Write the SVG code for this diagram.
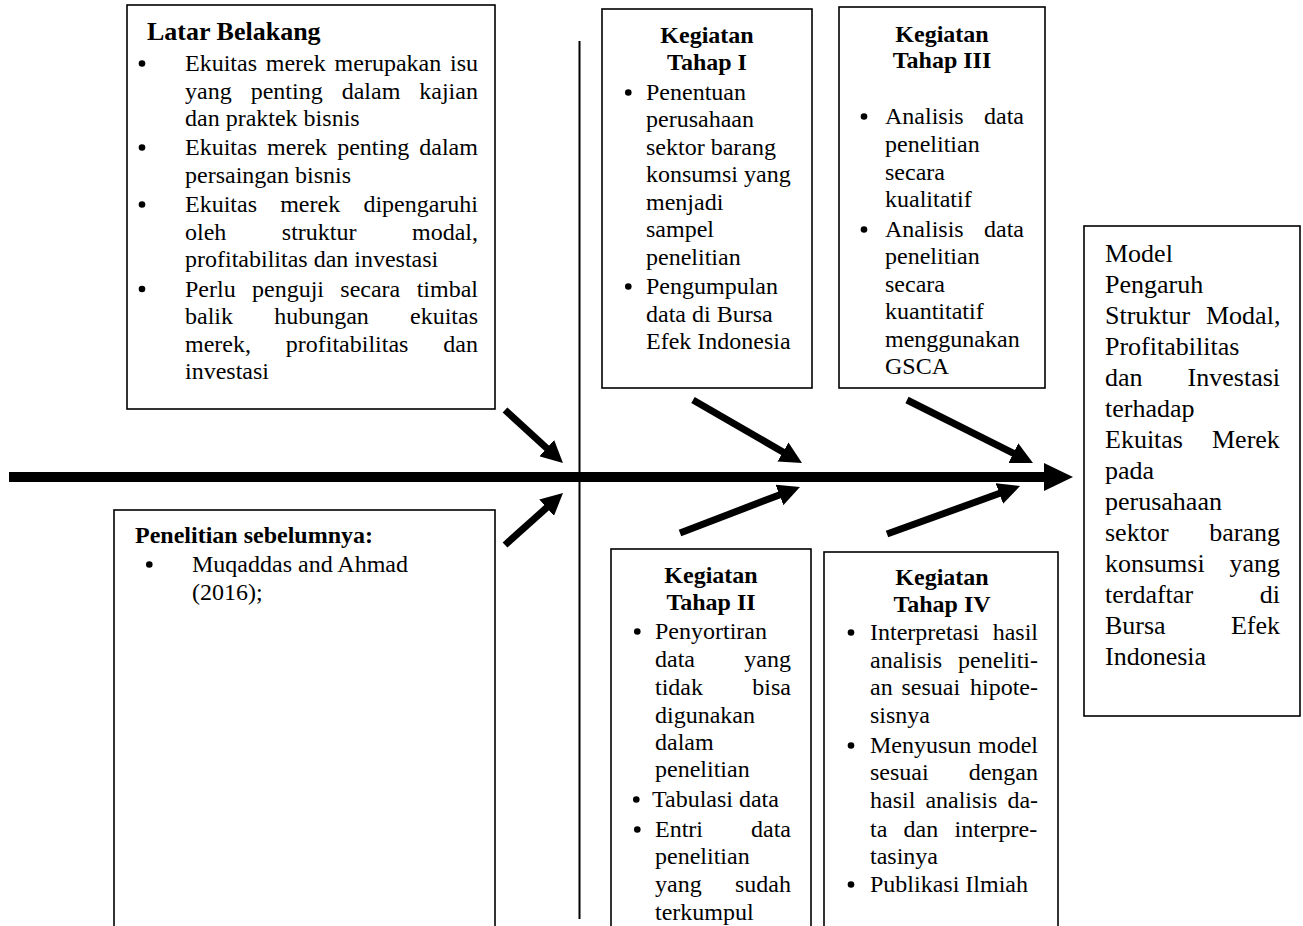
<svg xmlns="http://www.w3.org/2000/svg" width="1303" height="926" viewBox="0 0 1303 926">
<style>
.box{fill:#fff;stroke:#000;stroke-width:1.6}
text{font-family:"Liberation Serif","Times New Roman",serif;font-size:24px;fill:#000}
.b{font-weight:bold}
.c{text-anchor:middle}
.big{font-size:26px}
.bl{fill:#000}
.arr{stroke:#000;stroke-width:7;fill:none;marker-end:url(#head)}
.main{stroke:#000;stroke-width:10;fill:none;marker-end:url(#bighead)}
</style>
<defs>
<marker id="head" markerUnits="userSpaceOnUse" markerWidth="22" markerHeight="22" refX="2" refY="11" orient="auto">
<path d="M0,0 L22,11 L0,22 z" fill="#000"/>
</marker>
<marker id="bighead" markerUnits="userSpaceOnUse" markerWidth="29" markerHeight="28" refX="1" refY="14" orient="auto">
<path d="M0,0 L29,14 L0,28 z" fill="#000"/>
</marker>
</defs>
<rect width="1303" height="926" fill="#fff"/>

<g id="connectors">
<line class="main" x1="9" y1="477" x2="1045" y2="477"/>
<line x1="579.5" y1="41" x2="579.5" y2="919" stroke="#000" stroke-width="2"/>
<line class="arr" x1="505" y1="410" x2="548.2" y2="449.5"/>
<line class="arr" x1="505" y1="545" x2="548.1" y2="506.4"/>
<line class="arr" x1="693" y1="400" x2="784.7" y2="453"/>
<line class="arr" x1="680" y1="533" x2="781.3" y2="494.2"/>
<line class="arr" x1="907" y1="400" x2="1015.1" y2="454.1"/>
<line class="arr" x1="887" y1="534" x2="1001.2" y2="492.8"/>
</g>

<g id="latar-belakang">
<rect class="box" x="127" y="5" width="368" height="404"/>
<text class="b big" x="147" y="40">Latar Belakang</text>
<circle class="bl" cx="142" cy="63.5" r="3.3"/>
<text y="71"><tspan x="185">Ekuitas</tspan><tspan x="265.8">merek</tspan><tspan x="334.6">merupakan</tspan><tspan x="450">isu</tspan></text>
<text y="98.5"><tspan x="185">yang</tspan><tspan x="250.7">penting</tspan><tspan x="341.7">dalam</tspan><tspan x="419.3">kajian</tspan></text>
<text x="185" y="126">dan praktek bisnis</text>
<circle class="bl" cx="142" cy="147.5" r="3.3"/>
<text y="155"><tspan x="185">Ekuitas</tspan><tspan x="267.1">merek</tspan><tspan x="337.2">penting</tspan><tspan x="419.3">dalam</tspan></text>
<text x="185" y="182.5">persaingan bisnis</text>
<circle class="bl" cx="142" cy="204.5" r="3.3"/>
<text y="212"><tspan x="185">Ekuitas</tspan><tspan x="280.2">merek</tspan><tspan x="363.4">dipengaruhi</tspan></text>
<text y="239.5"><tspan x="185">oleh</tspan><tspan x="281.8">struktur</tspan><tspan x="412">modal,</tspan></text>
<text x="185" y="267">profitabilitas dan investasi</text>
<circle class="bl" cx="142" cy="289" r="3.3"/>
<text y="296.5"><tspan x="185">Perlu</tspan><tspan x="252">penguji</tspan><tspan x="340.3">secara</tspan><tspan x="416.7">timbal</tspan></text>
<text y="324"><tspan x="185">balik</tspan><tspan x="274.2">hubungan</tspan><tspan x="410">ekuitas</tspan></text>
<text y="351.5"><tspan x="185">merek,</tspan><tspan x="285.8">profitabilitas</tspan><tspan x="443.3">dan</tspan></text>
<text x="185" y="379">investasi</text>
</g>

<g id="penelitian-sebelumnya">
<rect class="box" x="114" y="510" width="381" height="430"/>
<text class="b" x="135" y="543">Penelitian sebelumnya:</text>
<circle class="bl" cx="149.3" cy="564.5" r="3.3"/>
<text x="192" y="572">Muqaddas and Ahmad</text>
<text x="192" y="600">(2016);</text>
</g>

<g id="kegiatan-tahap-1">
<rect class="box" x="602" y="9" width="210" height="379"/>
<text class="b c" x="707" y="43">Kegiatan</text>
<text class="b c" x="707" y="70">Tahap I</text>
<circle class="bl" cx="628.3" cy="92.5" r="3.3"/>
<text x="646" y="100">Penentuan</text>
<text x="646" y="127">perusahaan</text>
<text x="646" y="155">sektor barang</text>
<text x="646" y="182">konsumsi yang</text>
<text x="646" y="210">menjadi</text>
<text x="646" y="237">sampel</text>
<text x="646" y="265">penelitian</text>
<circle class="bl" cx="628.3" cy="286.5" r="3.3"/>
<text x="646" y="294">Pengumpulan</text>
<text x="646" y="322">data di Bursa</text>
<text x="646" y="349">Efek Indonesia</text>
</g>

<g id="kegiatan-tahap-3">
<rect class="box" x="839" y="7" width="206" height="381"/>
<text class="b c" x="942" y="42">Kegiatan</text>
<text class="b c" x="942" y="68">Tahap III</text>
<circle class="bl" cx="864" cy="116.5" r="3.3"/>
<text y="124"><tspan x="885">Analisis</tspan><tspan x="984">data</tspan></text>
<text x="885" y="152">penelitian</text>
<text x="885" y="180">secara</text>
<text x="885" y="207">kualitatif</text>
<circle class="bl" cx="864" cy="229.5" r="3.3"/>
<text y="237"><tspan x="885">Analisis</tspan><tspan x="984">data</tspan></text>
<text x="885" y="264">penelitian</text>
<text x="885" y="292">secara</text>
<text x="885" y="319">kuantitatif</text>
<text x="885" y="347">menggunakan</text>
<text x="885" y="374">GSCA</text>
</g>

<g id="kegiatan-tahap-2">
<rect class="box" x="611" y="549" width="200" height="400"/>
<text class="b c" x="711" y="583">Kegiatan</text>
<text class="b c" x="711" y="610">Tahap II</text>
<circle class="bl" cx="637.3" cy="631.5" r="3.3"/>
<text x="655" y="639">Penyortiran</text>
<text y="667"><tspan x="655">data</tspan><tspan x="744.3">yang</tspan></text>
<text y="695"><tspan x="655">tidak</tspan><tspan x="752.3">bisa</tspan></text>
<text x="655" y="723">digunakan</text>
<text x="655" y="750">dalam</text>
<text x="655" y="777">penelitian</text>
<circle class="bl" cx="636.3" cy="799.5" r="3.3"/>
<text x="652" y="807">Tabulasi data</text>
<circle class="bl" cx="637.3" cy="829.5" r="3.3"/>
<text y="837"><tspan x="655">Entri</tspan><tspan x="751">data</tspan></text>
<text x="655" y="864">penelitian</text>
<text y="892"><tspan x="655">yang</tspan><tspan x="735">sudah</tspan></text>
<text x="655" y="920">terkumpul</text>
</g>

<g id="kegiatan-tahap-4">
<rect class="box" x="824" y="552" width="234" height="400"/>
<text class="b c" x="942" y="585">Kegiatan</text>
<text class="b c" x="942" y="612">Tahap IV</text>
<circle class="bl" cx="851" cy="632.5" r="3.3"/>
<text y="640"><tspan x="870">Interpretasi</tspan><tspan x="992.7">hasil</tspan></text>
<text y="668"><tspan x="870">analisis</tspan><tspan x="958">peneliti-</tspan></text>
<text y="695"><tspan x="870">an</tspan><tspan x="901.5">sesuai</tspan><tspan x="970">hipote-</tspan></text>
<text x="870" y="723">sisnya</text>
<circle class="bl" cx="851" cy="745.5" r="3.3"/>
<text y="753"><tspan x="870">Menyusun</tspan><tspan x="978">model</tspan></text>
<text y="780"><tspan x="870">sesuai</tspan><tspan x="968.7">dengan</tspan></text>
<text y="808"><tspan x="870">hasil</tspan><tspan x="925.4">analisis</tspan><tspan x="1007.4">da-</tspan></text>
<text y="837"><tspan x="870">ta</tspan><tspan x="903.6">dan</tspan><tspan x="954.6">interpre-</tspan></text>
<text x="870" y="864">tasinya</text>
<circle class="bl" cx="851" cy="884.5" r="3.3"/>
<text x="870" y="892">Publikasi Ilmiah</text>
</g>

<g id="model">
<rect class="box" x="1084" y="226" width="216" height="490"/>
<text class="big" x="1105" y="262">Model</text>
<text class="big" x="1105" y="293">Pengaruh</text>
<text class="big" y="324"><tspan x="1105">Struktur</tspan><tspan x="1206">Modal,</tspan></text>
<text class="big" x="1105" y="355">Profitabilitas</text>
<text class="big" y="386"><tspan x="1105">dan</tspan><tspan x="1187.6">Investasi</tspan></text>
<text class="big" x="1105" y="417">terhadap</text>
<text class="big" y="448"><tspan x="1105">Ekuitas</tspan><tspan x="1212">Merek</tspan></text>
<text class="big" x="1105" y="479">pada</text>
<text class="big" x="1105" y="510">perusahaan</text>
<text class="big" y="541"><tspan x="1105">sektor</tspan><tspan x="1209.3">barang</tspan></text>
<text class="big" y="572"><tspan x="1105">konsumsi</tspan><tspan x="1229.5">yang</tspan></text>
<text class="big" y="603"><tspan x="1105">terdaftar</tspan><tspan x="1259.8">di</tspan></text>
<text class="big" y="634"><tspan x="1105">Bursa</tspan><tspan x="1230.9">Efek</tspan></text>
<text class="big" x="1105" y="665">Indonesia</text>
</g>
</svg>
